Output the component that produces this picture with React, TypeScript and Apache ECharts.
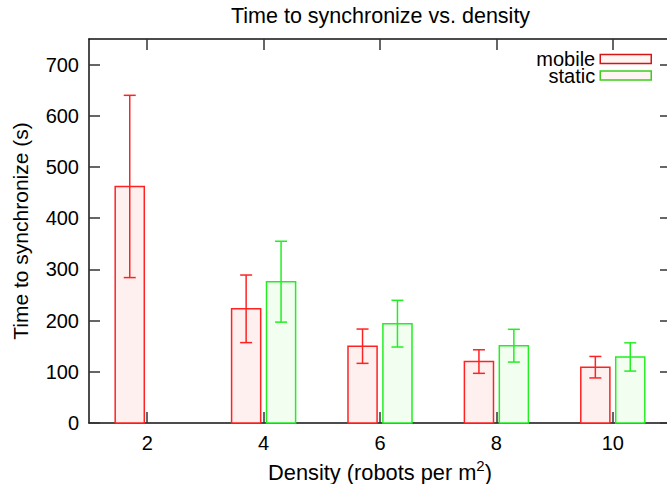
import React, { useEffect, useRef } from "react";
import * as echarts from "echarts";

// Robot density (robots per m^2) and measured synchronisation times (s)
const densities = [2, 4, 6, 8, 10];
const mobileMean = [462, 223, 150, 120, 109];
const mobileErr = [178, 66, 33.5, 23, 21];
const staticMean: (number | null)[] = [null, 276, 194, 151, 129];
const staticErr: (number | null)[] = [null, 79, 45.6, 32, 27.6];

const yTicks = [0, 100, 200, 300, 400, 500, 600, 700];
const xTicks = [2, 4, 6, 8, 10];
const xRange = [1, 11];
const yRange = [0, 750];

const FONT = "'Liberation Sans', Arial, sans-serif";
const HALF_BAR = 0.25;
const CAP = 6;

function barSeries(
  name: string,
  offset: number,
  means: (number | null)[],
  errs: (number | null)[],
  stroke: string,
  fill: string
) {
  const data = densities
    .map((d, i) => [d, means[i], errs[i]])
    .filter((r) => r[1] != null);
  return {
    type: "custom",
    name,
    data,
    encode: { x: 0, y: 1 },
    clip: false,
    renderItem: (_params: any, api: any) => {
      const x = api.value(0) + offset;
      const m = api.value(1);
      const e = api.value(2);
      const a = api.coord([x - HALF_BAR, m]);
      const b = api.coord([x + HALF_BAR, 0]);
      const hi = api.coord([x, m + e]);
      const lo = api.coord([x, m - e]);
      const lw = 1.5;
      return {
        type: "group",
        children: [
          {
            type: "rect",
            shape: { x: a[0], y: a[1], width: b[0] - a[0], height: b[1] - a[1] },
            style: { fill, stroke, lineWidth: lw },
          },
          {
            type: "line",
            shape: { x1: hi[0], y1: hi[1], x2: lo[0], y2: lo[1] },
            style: { stroke, lineWidth: lw },
          },
          {
            type: "line",
            shape: { x1: hi[0] - CAP, y1: hi[1], x2: hi[0] + CAP, y2: hi[1] },
            style: { stroke, lineWidth: lw },
          },
          {
            type: "line",
            shape: { x1: lo[0] - CAP, y1: lo[1], x2: lo[0] + CAP, y2: lo[1] },
            style: { stroke, lineWidth: lw },
          },
        ],
      };
    },
  };
}

export default function App() {
  const ref = useRef<HTMLDivElement>(null);

  useEffect(() => {
    if (!ref.current) return;
    const chart = echarts.init(ref.current, null, { renderer: "svg" });

    const axisLine = { show: true, onZero: false, lineStyle: { color: "#111", width: 1.5 } };
    const tick = (vals: number[]) => ({
      show: true,
      inside: true,
      length: 11,
      customValues: vals,
      lineStyle: { color: "#333", width: 1.5 },
    });

    chart.setOption({
      animation: false,
      backgroundColor: "#fff",
      title: {
        text: "Time to synchronize vs. density",
        left: 231,
        top: 5,
        padding: 0,
        textStyle: { fontFamily: FONT, fontSize: 21.5, fontWeight: "normal", color: "#000" },
      },
      legend: {
        orient: "vertical",
        right: 15,
        top: 49,
        align: "right",
        padding: 0,
        itemWidth: 51,
        itemHeight: 9,
        itemGap: -3.5,
        selectedMode: false,
        textStyle: { fontFamily: FONT, fontSize: 20, color: "#000", lineHeight: 16 },
        data: [
          {
            name: "mobile",
            icon: "rect",
            itemStyle: { color: "#fff5f2", borderColor: "#d41616", borderWidth: 1.5 },
          },
          {
            name: "static",
            icon: "rect",
            itemStyle: { color: "#fff5f2", borderColor: "#3ccc1c", borderWidth: 1.5 },
          },
        ],
      },
      grid: {
        left: 89,
        right: -4,
        top: 39,
        bottom: 61,
        containLabel: false,
        outerBoundsMode: "none",
      },
      xAxis: [
        {
          type: "value",
          min: xRange[0],
          max: xRange[1],
          position: "bottom",
          name: "Density (robots per m{sup|2})",
          nameLocation: "middle",
          nameGap: 23,
          nameTextStyle: {
            fontFamily: FONT,
            fontSize: 21.8,
            color: "#000",
            rich: { sup: { fontFamily: FONT, fontSize: 15, color: "#000", padding: [0, 0, 14, 0] } },
          },
          axisLine,
          axisTick: tick(xTicks),
          axisLabel: {
            customValues: xTicks,
            margin: 10,
            fontFamily: FONT,
            fontSize: 20,
            color: "#000",
          },
          splitLine: { show: false },
        },
        {
          type: "value",
          min: xRange[0],
          max: xRange[1],
          position: "top",
          axisLine,
          axisTick: tick(xTicks),
          axisLabel: { show: false },
          splitLine: { show: false },
        },
      ],
      yAxis: [
        {
          type: "value",
          min: yRange[0],
          max: yRange[1],
          position: "left",
          name: "Time to synchronize (s)",
          nameLocation: "middle",
          nameGap: 58,
          nameTextStyle: { fontFamily: FONT, fontSize: 21, color: "#000" },
          axisLine,
          axisTick: tick(yTicks),
          axisLabel: {
            customValues: yTicks,
            margin: 10,
            fontFamily: FONT,
            fontSize: 20,
            color: "#000",
          },
          splitLine: { show: false },
        },
        {
          type: "value",
          min: yRange[0],
          max: yRange[1],
          position: "right",
          axisLine,
          axisTick: tick(yTicks),
          axisLabel: { show: false },
          splitLine: { show: false },
        },
      ],
      series: [
        barSeries("mobile", -0.3, mobileMean, mobileErr, "#ff2222", "#fff0f0"),
        barSeries("static", 0.3, staticMean, staticErr, "#22ee22", "#f2fff0"),
      ],
    });

    return () => chart.dispose();
  }, []);

  return (
    <div
      ref={ref}
      style={{ position: "fixed", left: 0, top: 0, width: 667, height: 484 }}
    />
  );
}
